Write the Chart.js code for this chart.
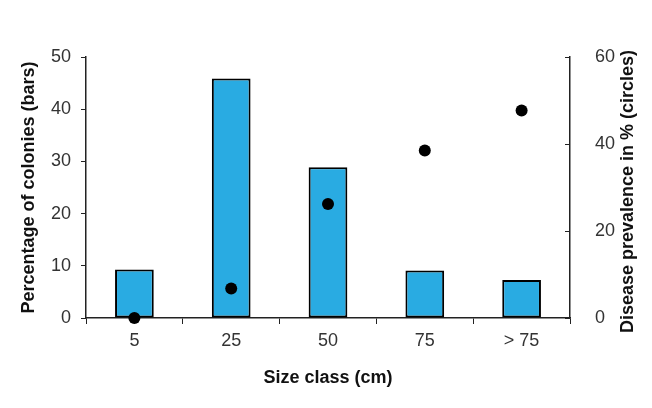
<!DOCTYPE html>
<html>
<head>
<meta charset="utf-8">
<script src="https://cdn.jsdelivr.net/npm/chart.js@4.4.1/dist/chart.umd.min.js"></script>
<style>
  html, body { margin: 0; padding: 0; background: #ffffff; }
  #wrap { width: 652px; height: 408px; position: relative; }
</style>
</head>
<body>
<div id="wrap"><canvas id="sizeChart"></canvas></div>
<script>
// Size class data
const sizeClasses = ['5', '25', '50', '75', '> 75'];
const colonyPercent = [9.3, 45.9, 28.9, 9.1, 7.3];
const diseasePrevalence = [0, 6.8, 26.2, 38.5, 47.7];
const leftTicks = [0, 10, 20, 30, 40, 50];
const rightTicks = [0, 20, 40, 60];

const FONT = "'Liberation Sans', Arial, Helvetica, sans-serif";
const BAR_BLUE = '#29abe2';
const AXIS = '#222222';
const RIGHT_TITLE = 'Disease prevalence in % (circles)';

// right axis: tick marks point into the plot and the title reads bottom-to-top
const rightAxisExtras = {
    id: 'rightAxisExtras',
    afterDraw(chart) {
        const ctx = chart.ctx;
        const s = chart.scales.y1;
        const area = chart.chartArea;
        ctx.save();
        ctx.strokeStyle = AXIS;
        ctx.lineWidth = 1;
        rightTicks.forEach(v => {
            const py = Math.round(s.getPixelForValue(v)) + 0.5;
            ctx.beginPath();
            ctx.moveTo(s.left, py);
            ctx.lineTo(s.left - 5, py);
            ctx.stroke();
        });
        ctx.translate(628, (area.top + area.bottom) / 2 + 4);
        ctx.rotate(-Math.PI / 2);
        ctx.fillStyle = '#111111';
        ctx.font = 'bold 18px ' + FONT;
        ctx.textAlign = 'center';
        ctx.textBaseline = 'middle';
        ctx.fillText(RIGHT_TITLE, 0, 0);
        ctx.restore();
    }
};

new Chart(document.getElementById('sizeChart'), {
    type: 'bar',
    data: {
        labels: sizeClasses,
        datasets: [
            {
                type: 'line',
                label: 'Disease prevalence',
                data: diseasePrevalence,
                yAxisID: 'y1',
                showLine: false,
                pointRadius: 6,
                pointBackgroundColor: '#000000',
                pointBorderColor: '#000000',
                pointBorderWidth: 0,
                clip: false,
                order: 0
            },
            {
                label: 'Percentage of colonies',
                data: colonyPercent,
                yAxisID: 'y',
                backgroundColor: BAR_BLUE,
                borderColor: '#000000',
                borderWidth: 2,
                borderSkipped: false,
                categoryPercentage: 1.0,
                barPercentage: 0.4,
                order: 1
            }
        ]
    },
    options: {
        responsive: true,
        maintainAspectRatio: false,
        animation: false,
        layout: { padding: { left: 18, right: 0, top: 57, bottom: 19 } },
        plugins: {
            legend: { display: false },
            tooltip: { enabled: false }
        },
        scales: {
            x: {
                offset: true,
                afterFit: (scale) => { scale.height = 71; },
                grid: {
                    display: true,
                    offset: true,
                    drawOnChartArea: false,
                    drawTicks: true,
                    tickLength: 6,
                    color: AXIS
                },
                border: { display: true, color: AXIS, width: 1.5 },
                ticks: {
                    color: '#333333',
                    padding: 6,
                    font: { family: FONT, size: 18 }
                },
                title: {
                    display: true,
                    text: 'Size class (cm)',
                    color: '#111111',
                    padding: { top: 16, bottom: 0 },
                    font: { family: FONT, size: 18, weight: 'bold' }
                }
            },
            y: {
                position: 'left',
                min: 0,
                max: 50,
                afterBuildTicks: (scale) => { scale.ticks = leftTicks.map(v => ({ value: v })); },
                afterFit: (scale) => { scale.width = 68; },
                grid: {
                    display: true,
                    drawOnChartArea: false,
                    tickLength: 5,
                    color: AXIS
                },
                border: { display: true, color: AXIS, width: 1.5 },
                ticks: {
                    color: '#333333',
                    padding: 10,
                    font: { family: FONT, size: 18 }
                },
                title: {
                    display: true,
                    text: 'Percentage of colonies (bars)',
                    color: '#111111',
                    padding: { top: 0, bottom: 4 },
                    font: { family: FONT, size: 18, weight: 'bold' }
                }
            },
            y1: {
                position: 'right',
                min: 0,
                max: 60,
                afterBuildTicks: (scale) => { scale.ticks = rightTicks.map(v => ({ value: v })); },
                afterFit: (scale) => { scale.width = 82; },
                grid: { display: false },
                border: { display: true, color: AXIS, width: 1.5 },
                ticks: {
                    color: '#333333',
                    padding: 17,
                    font: { family: FONT, size: 18 }
                },
                title: { display: false }
            }
        }
    },
    plugins: [rightAxisExtras]
});
</script>
</body>
</html>
